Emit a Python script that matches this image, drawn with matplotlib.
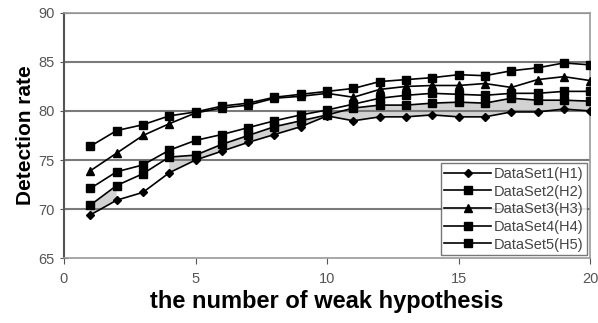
import numpy as np
import matplotlib
matplotlib.use('Agg')
import matplotlib.pyplot as plt

plt.rcParams['font.family'] = ['Liberation Sans', 'DejaVu Sans']

# number of weak hypotheses
n_weak = np.arange(1, 21)

h1 = [69.4, 70.9, 71.7, 73.7, 75.0, 75.9, 76.8, 77.6, 78.4, 79.5,
      79.0, 79.4, 79.4, 79.6, 79.4, 79.4, 79.9, 79.9, 80.2, 80.0]
h2 = [72.1, 73.8, 74.5, 76.0, 77.0, 77.6, 78.3, 79.0, 79.6, 80.1,
      80.7, 81.3, 81.6, 81.8, 81.7, 81.6, 81.8, 81.8, 82.0, 82.0]
h3 = [73.9, 75.7, 77.5, 78.7, 79.8, 80.3, 80.6, 81.3, 81.5, 81.8,
      81.4, 82.2, 82.5, 82.6, 82.6, 82.8, 82.4, 83.2, 83.5, 83.1]
h4 = [76.4, 78.0, 78.6, 79.5, 79.9, 80.5, 80.8, 81.4, 81.7, 82.0,
      82.3, 83.0, 83.2, 83.4, 83.7, 83.6, 84.1, 84.4, 84.9, 84.7]
h5 = [70.4, 72.4, 73.6, 75.3, 75.5, 76.6, 77.5, 78.4, 79.0, 79.6,
      80.3, 80.6, 80.6, 80.8, 80.9, 80.8, 81.3, 81.1, 81.1, 81.0]

labels = ['DataSet1(H1)', 'DataSet2(H2)', 'DataSet3(H3)', 'DataSet4(H4)', 'DataSet5(H5)']
markers = ['D', 's', '^', 's', 's']
msizes = [4, 6, 6, 6, 6]

fig = plt.figure(figsize=(5.98, 3.23), dpi=100)
ax = fig.add_axes([0.107, 0.201, 0.88, 0.759])

# grey shading between the close lower curves
ax.fill_between(n_weak, h1, h5, color='#d2d2d2', lw=0, zorder=1,
                where=(np.array(h5) - np.array(h1)) < 1.6, interpolate=True)

for ys, lab, m, ms in zip([h1, h2, h3, h4, h5], labels, markers, msizes):
    ax.plot(n_weak, ys, color='black', lw=1.2, marker=m, ms=ms, label=lab, zorder=3)

ax.set_xlim(0, 20)
ax.set_ylim(65, 90)
ax.set_xticks([0, 5, 10, 15, 20])
ax.set_yticks([65, 70, 75, 80, 85, 90])

for yv in [70, 75, 80, 85, 90]:
    ax.axhline(yv, color='#7a7a7a', lw=1.5, zorder=2)

for s in ['top', 'right', 'bottom']:
    ax.spines[s].set_color('#999999')
    ax.spines[s].set_linewidth(1.2)
ax.spines['left'].set_color('#555555')
ax.spines['left'].set_linewidth(1.5)

ax.tick_params(axis='y', direction='inout', length=6, color='#555555',
               labelcolor='#555555', labelsize=10.5, pad=4)
ax.tick_params(axis='x', direction='out', length=4, color='#555555',
               labelcolor='#555555', labelsize=10.5, pad=6)

ax.set_xlabel('the number of weak hypothesis', fontsize=17, fontweight='bold', labelpad=3)
ax.set_ylabel('Detection rate', fontsize=15, fontweight='bold', labelpad=2)

leg = ax.legend(loc='lower right', fontsize=10.5, frameon=True, fancybox=False,
                handlelength=3.2, borderaxespad=0.2, labelspacing=0.25,
                handletextpad=0.2, borderpad=0.25)
leg.get_frame().set_edgecolor('#555555')
leg.get_frame().set_linewidth(1.0)
for t in leg.get_texts():
    t.set_color('#444444')

fig.savefig('out.png', dpi=100)
